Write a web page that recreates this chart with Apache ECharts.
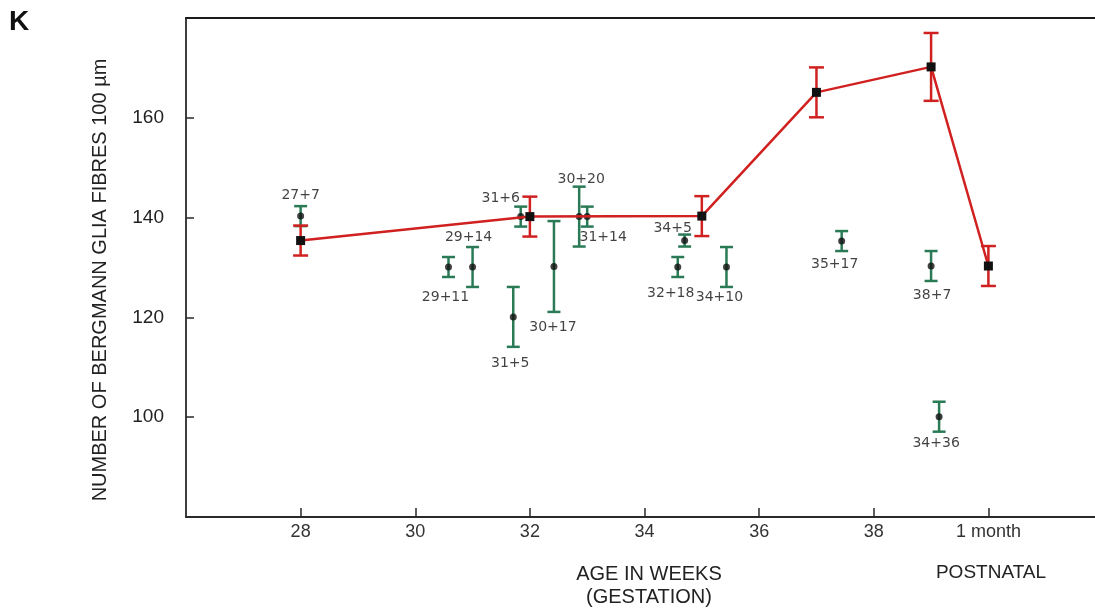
<!DOCTYPE html>
<html>
<head>
<meta charset="utf-8">
<script src="https://cdn.jsdelivr.net/npm/echarts@6/dist/echarts.min.js"></script>
<style>
html,body{margin:0;padding:0;background:#fff;}
#chart{width:1095px;height:611px;}
</style>
</head>
<body>
<div id="chart"></div>
<script>
// ---- data ----
var xTickValues = [28, 30, 32, 34, 36, 38, 40];
var xTickLabels = ['28', '30', '32', '34', '36', '38', '1 month'];
var yTickValues = [100, 120, 140, 160];

// red (mean) series
var redX = [28, 32, 35, 37, 39, 40];
var redY = [135.4, 140.2, 140.3, 165.1, 170.2, 130.3];
var redErr = [3, 4, 4, 5, 6.8, 4];

// green (individual cases) series
var greenLabels = ['27+7', '29+11', '29+14', '31+5', '31+6', '30+17', '30+20', '31+14', '34+5', '32+18', '34+10', '35+17', '38+7', '34+36'];
var greenX = [28, 30.58, 31.0, 31.71, 31.84, 32.42, 32.86, 33.0, 34.70, 34.58, 35.43, 37.44, 39.0, 39.14];
var greenY = [140.3, 130.1, 130.1, 120.1, 140.2, 130.2, 140.2, 140.2, 135.4, 130.1, 130.1, 135.3, 130.3, 100.1];
var greenErr = [2, 2, 4, 6, 2, 9.1, 6, 2, 1.2, 2, 4, 2, 3, 3];

// label placement (style, text centre offset from the point in px)
var greenLabelOffset = [[0,-21],[-3,30],[-4,-30],[-3,46],[-20,-18],[-1,61],[2,-37],[16,21],[-12,-12],[-7,26],[-7,30],[-7,23],[1,29],[-3,27]];

// ---- chart ----
var chart = echarts.init(document.getElementById('chart'), null, {renderer: 'canvas'});
var AX = '#2a2a2a';
var RED = '#d02020';
var GREEN = '#2a7a56';

function errorBarSeries(xs, ys, errs, color, capHalf, width, z) {
  return {
    type: 'custom',
    z: z,
    silent: true,
    data: xs.map(function (x, i) { return [x, ys[i] - errs[i], ys[i] + errs[i]]; }),
    encode: {x: 0, y: [1, 2]},
    renderItem: function (params, api) {
      var lo = api.coord([api.value(0), api.value(1)]);
      var hi = api.coord([api.value(0), api.value(2)]);
      var st = {stroke: color, lineWidth: width};
      return {
        type: 'group',
        children: [
          {type: 'line', shape: {x1: lo[0], y1: lo[1], x2: hi[0], y2: hi[1]}, style: st},
          {type: 'line', shape: {x1: lo[0] - capHalf, y1: lo[1], x2: lo[0] + capHalf, y2: lo[1]}, style: st},
          {type: 'line', shape: {x1: hi[0] - capHalf, y1: hi[1], x2: hi[0] + capHalf, y2: hi[1]}, style: st}
        ]
      };
    }
  };
}

var option = {
  backgroundColor: '#fff',
  animation: false,
  grid: {left: 186, top: 18, right: 0, bottom: 94, containLabel: false},
  xAxis: [{
    type: 'value',
    min: 26,
    max: 41.86,
    position: 'bottom',
    splitLine: {show: false},
    axisLine: {show: true, onZero: false, lineStyle: {color: AX, width: 1.8}},
    axisTick: {show: true, inside: true, length: 9, customValues: xTickValues, lineStyle: {color: AX, width: 1.5}},
    axisLabel: {
      show: true, margin: 6, customValues: xTickValues,
      fontFamily: 'Liberation Sans, Arial, sans-serif', fontSize: 18, color: '#333',
      formatter: function (v) { var i = xTickValues.indexOf(v); return i >= 0 ? xTickLabels[i] : ''; }
    }
  }, {
    type: 'value',
    min: 26,
    max: 41.86,
    position: 'top',
    splitLine: {show: false},
    axisLine: {show: true, onZero: false, lineStyle: {color: '#1a1a1a', width: 1.8}},
    axisTick: {show: false},
    axisLabel: {show: false}
  }],
  yAxis: {
    type: 'value',
    min: 80,
    max: 180,
    splitLine: {show: false},
    axisLine: {show: true, onZero: false, lineStyle: {color: AX, width: 1.8}},
    axisTick: {show: true, inside: true, length: 8, customValues: yTickValues, lineStyle: {color: AX, width: 1.5}},
    axisLabel: {
      show: true, margin: 22, customValues: yTickValues,
      fontFamily: 'Liberation Sans, Arial, sans-serif', fontSize: 19, color: '#222'
    }
  },
  series: [
    errorBarSeries(greenX, greenY, greenErr, GREEN, 6.5, 2.5, 2),
    {
      type: 'scatter',
      z: 3,
      symbol: 'circle',
      symbolSize: 7,
      itemStyle: {color: '#111'},
      data: greenX.map(function (x, i) {
        return {
          value: [x, greenY[i]],
          name: greenLabels[i],
          label: {offset: greenLabelOffset[i]}
        };
      }),
      label: {
        show: true,
        position: 'inside',
        formatter: '{b}',
        fontFamily: 'DejaVu Sans, sans-serif',
        fontSize: 14,
        color: '#111'
      }
    },
    errorBarSeries(redX, redY, redErr, RED, 7.5, 2.5, 4),
    {
      type: 'line',
      z: 5,
      data: redX.map(function (x, i) { return [x, redY[i]]; }),
      symbol: 'rect',
      symbolSize: 9,
      showSymbol: true,
      itemStyle: {color: '#111'},
      lineStyle: {color: RED, width: 2.5}
    }
  ],
  graphic: [
    {type: 'text', left: 9, top: 8, style: {text: 'K', fontFamily: 'Liberation Sans, Arial, sans-serif', fontWeight: 'bold', fontSize: 28, fill: '#111'}},
    {type: 'text', x: 100, y: 280, rotation: Math.PI / 2,
     style: {text: 'NUMBER OF BERGMANN GLIA FIBRES 100 µm', fontFamily: 'Liberation Sans, Arial, sans-serif', fontSize: 20, fill: '#222', align: 'center', verticalAlign: 'middle'}},
    {type: 'text', x: 649, y: 586,
     style: {text: 'AGE IN WEEKS\n(GESTATION)', fontFamily: 'Liberation Sans, Arial, sans-serif', fontSize: 20, lineHeight: 23, fill: '#222', align: 'center', verticalAlign: 'middle'}},
    {type: 'text', x: 991, y: 573,
     style: {text: 'POSTNATAL', fontFamily: 'Liberation Sans, Arial, sans-serif', fontSize: 19, fill: '#222', align: 'center', verticalAlign: 'middle'}}
  ]
};
chart.setOption(option);
</script>
</body>
</html>
